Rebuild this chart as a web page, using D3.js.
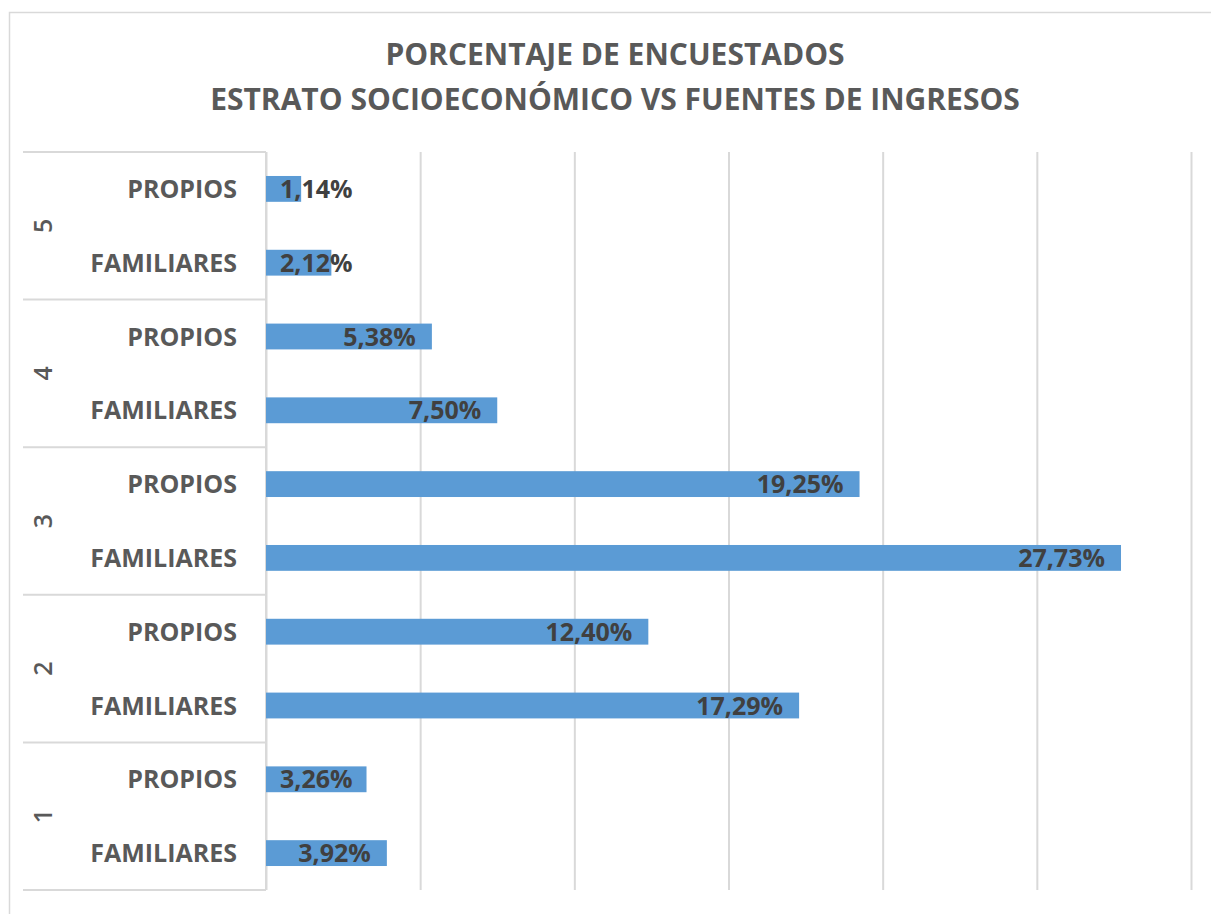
<!DOCTYPE html>
<html>
<head>
<meta charset="utf-8">
<script src="https://cdn.jsdelivr.net/npm/d3@7"></script>
<style>
  body { margin: 0; background: #fff; }
  svg { font-family: "Open Sans", sans-serif; }
</style>
</head>
<body>
<svg></svg>
<script>
var estratos = ["1", "2", "3", "4", "5"];
var fuentes = ["FAMILIARES", "PROPIOS"];
var familiares = [3.92, 17.29, 27.73, 7.50, 2.12];
var propios = [3.26, 12.40, 19.25, 5.38, 1.14];
var xTicks = [0, 5, 10, 15, 20, 25, 30];
var titulo = ["PORCENTAJE DE ENCUESTADOS", "ESTRATO SOCIOECONÓMICO VS FUENTES DE INGRESOS"];

var width = 1211, height = 914;
var plot = {left: 266, right: 1191, top: 152, bottom: 890};
var groupLeft = 23;

// rows from bottom to top, like excel
var rows = [];
estratos.forEach(function(e, i) {
  rows.push({estrato: e, fuente: fuentes[0], value: familiares[i]});
  rows.push({estrato: e, fuente: fuentes[1], value: propios[i]});
});
rows.forEach(function(d) { d.key = d.estrato + "-" + d.fuente; });

var svg = d3.select("svg").attr("width", width).attr("height", height);

// chart border
svg.append("rect")
  .attr("x", 9.5).attr("y", 12.5)
  .attr("width", 1230).attr("height", 930)
  .attr("fill", "none").attr("stroke", "#d9d9d9").attr("stroke-width", 1.5);

var x = d3.scaleLinear().domain([0, 30]).range([plot.left, plot.right]);
var y = d3.scaleBand()
  .domain(rows.map(function(d) { return d.key; }).reverse())
  .range([plot.top, plot.bottom])
  .paddingInner(0.65)
  .paddingOuter(0.325);

// gridlines
svg.append("g")
  .attr("transform", "translate(0," + plot.bottom + ")")
  .call(d3.axisBottom(x).tickValues(xTicks).tickSize(-(plot.bottom - plot.top)).tickFormat(""))
  .call(function(g) {
    g.select(".domain").remove();
    g.selectAll(".tick line").attr("stroke", "#d9d9d9").attr("stroke-width", 2);
  });

// group separators on the category axis
var groupY = d3.scaleBand().domain(estratos.slice().reverse()).range([plot.top, plot.bottom]);
var sepYs = groupY.domain().map(function(e) { return groupY(e); }).concat([plot.bottom]);
svg.append("g").selectAll("line").data(sepYs).enter().append("line")
  .attr("x1", groupLeft).attr("x2", plot.left)
  .attr("y1", function(d) { return d; }).attr("y2", function(d) { return d; })
  .attr("stroke", "#d9d9d9").attr("stroke-width", 2);

svg.append("line")
  .attr("x1", plot.left).attr("x2", plot.left)
  .attr("y1", plot.top).attr("y2", plot.bottom)
  .attr("stroke", "#d9d9d9").attr("stroke-width", 2);

// bars
svg.append("g").selectAll("rect").data(rows).enter().append("rect")
  .attr("x", x(0))
  .attr("y", function(d) { return y(d.key); })
  .attr("width", function(d) { return x(d.value) - x(0); })
  .attr("height", y.bandwidth())
  .attr("fill", "#5b9bd5");

// data labels
svg.append("g").selectAll("text").data(rows).enter().append("text")
  .attr("y", function(d) { return y(d.key) + y.bandwidth() / 2; })
  .attr("dy", "0.36em")
  .attr("text-anchor", "end")
  .attr("fill", "#404040")
  .style("font-size", "25px")
  .style("font-weight", "bold")
  .text(function(d) { return d.value.toFixed(2).replace(".", ",") + "%"; })
  .attr("x", function(d) {
    var w = this.getComputedTextLength();
    return Math.max(x(d.value) - 16, x(0) + 14 + w);
  });

// category labels
svg.append("g").selectAll("text").data(rows).enter().append("text")
  .attr("x", plot.left - 29)
  .attr("y", function(d) { return y(d.key) + y.bandwidth() / 2; })
  .attr("dy", "0.36em")
  .attr("text-anchor", "end")
  .attr("fill", "#595959")
  .style("font-size", "25px")
  .style("font-weight", "bold")
  .text(function(d) { return d.fuente; });

// estrato labels (rotated)
svg.append("g").selectAll("text").data(estratos).enter().append("text")
  .attr("transform", function(d) {
    return "translate(43," + (groupY(d) + groupY.bandwidth() / 2) + ")rotate(-90)";
  })
  .attr("dy", "0.36em")
  .attr("text-anchor", "middle")
  .attr("fill", "#595959")
  .style("font-size", "25px")
  .style("font-weight", "600")
  .text(function(d) { return d; });

// title
svg.append("g").selectAll("text").data(titulo).enter().append("text")
  .attr("x", 615)
  .attr("y", function(d, i) { return 65 + i * 45; })
  .attr("text-anchor", "middle")
  .attr("fill", "#595959")
  .style("font-size", "30px")
  .style("font-weight", "bold")
  .text(function(d) { return d; });
</script>
</body>
</html>
